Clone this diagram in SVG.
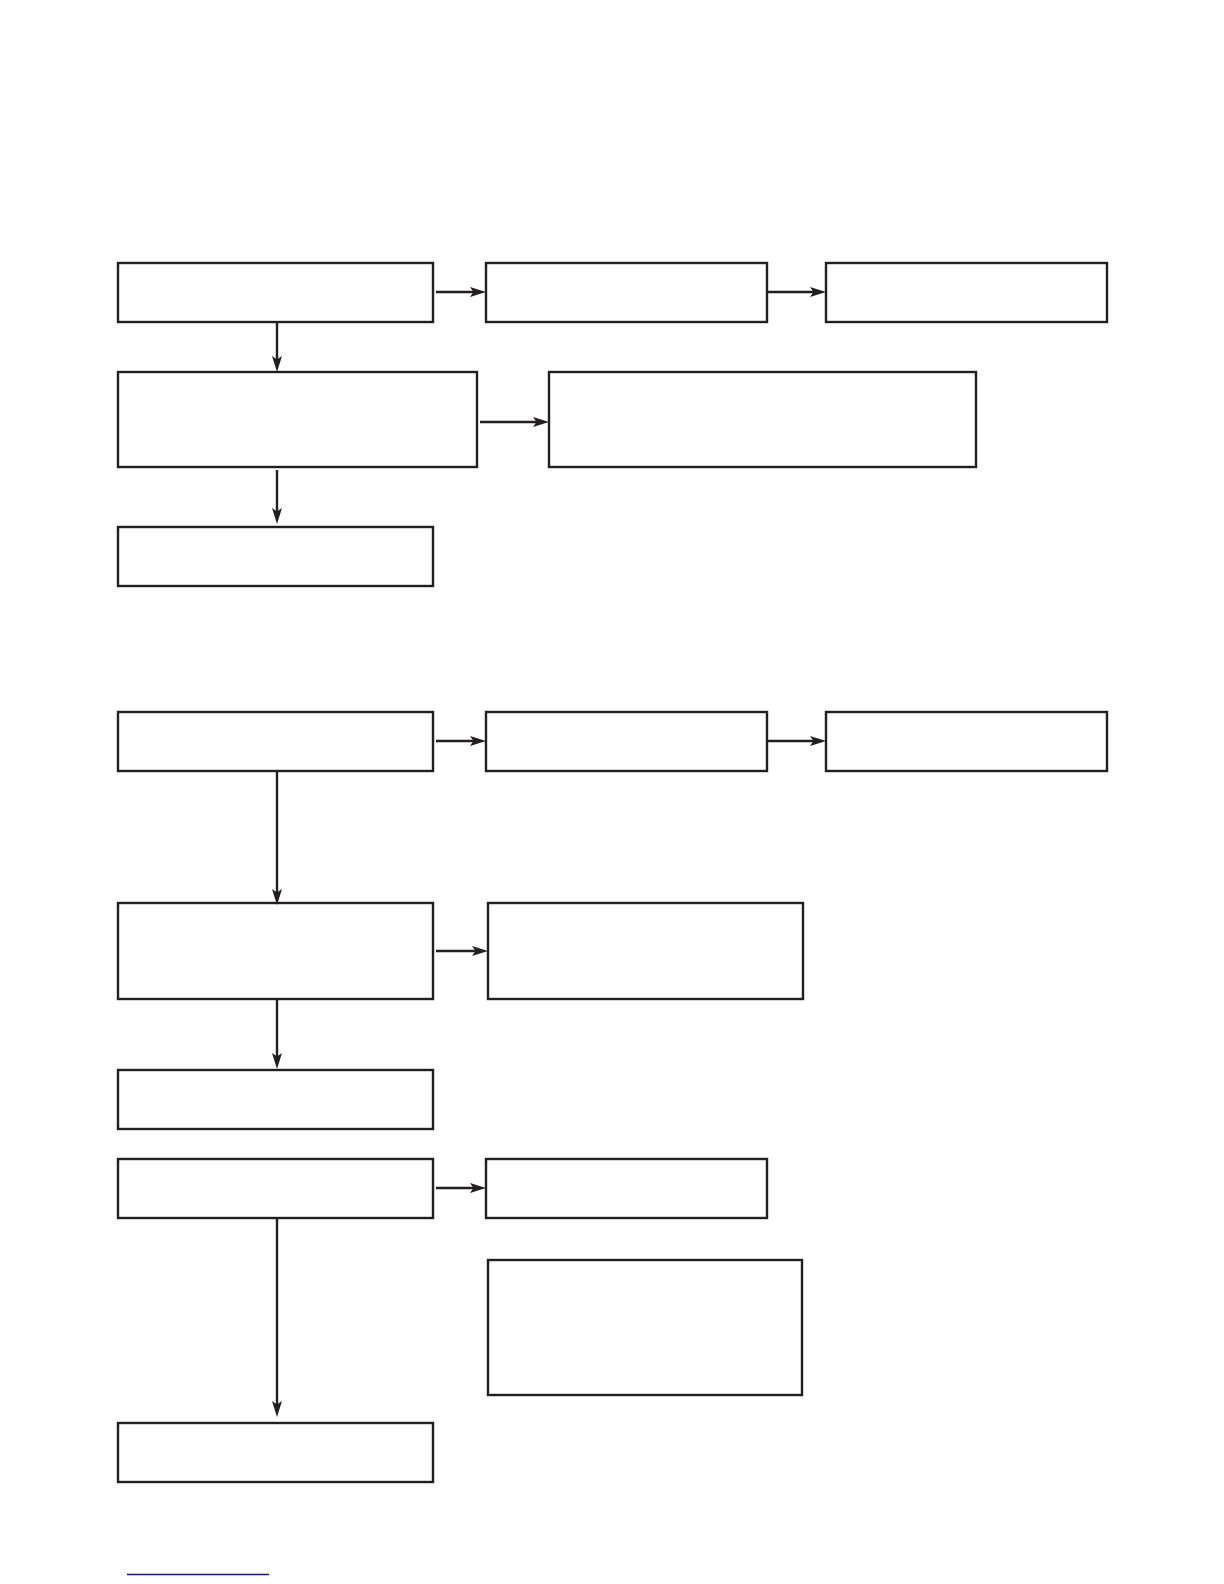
<svg xmlns="http://www.w3.org/2000/svg" width="1224" height="1584" viewBox="0 0 1224 1584">
<style>
.box{fill:#ffffff;stroke:#231f20;stroke-width:2.4}
.conn{stroke:#231f20;stroke-width:2.4;fill:none;marker-end:url(#ah)}
</style>
<defs>
<marker id="ah" markerUnits="userSpaceOnUse" markerWidth="18" markerHeight="12" refX="8" refY="5" orient="auto" overflow="visible">
<path d="M0,0 L16,5 L0,10 L3.5,5 z" fill="#231f20"/>
</marker>
</defs>
<rect width="1224" height="1584" fill="#ffffff"/>
<g id="nodes">
<g id="n1"><rect class="box" x="118" y="263" width="315" height="59"/></g>
<g id="n2"><rect class="box" x="486" y="263" width="281" height="59"/></g>
<g id="n3"><rect class="box" x="826" y="263" width="281" height="59"/></g>
<g id="n4"><rect class="box" x="118" y="372" width="359" height="95"/></g>
<g id="n5"><rect class="box" x="549" y="372" width="427" height="95"/></g>
<g id="n6"><rect class="box" x="118" y="527" width="315" height="59"/></g>
<g id="n7"><rect class="box" x="118" y="712" width="315" height="59"/></g>
<g id="n8"><rect class="box" x="486" y="712" width="281" height="59"/></g>
<g id="n9"><rect class="box" x="826" y="712" width="281" height="59"/></g>
<g id="n10"><rect class="box" x="118" y="903" width="315" height="96"/></g>
<g id="n11"><rect class="box" x="488" y="903" width="315" height="96"/></g>
<g id="n12"><rect class="box" x="118" y="1070" width="315" height="59"/></g>
<g id="n13"><rect class="box" x="118" y="1159" width="315" height="59"/></g>
<g id="n14"><rect class="box" x="486" y="1159" width="281" height="59"/></g>
<g id="n15"><rect class="box" x="488" y="1260" width="314" height="135"/></g>
<g id="n16"><rect class="box" x="118" y="1423" width="315" height="59"/></g>
</g>
<g id="connectors">
<line class="conn" x1="436" y1="292" x2="478" y2="292"/>
<line class="conn" x1="767" y1="292" x2="818" y2="292"/>
<line class="conn" x1="277" y1="322" x2="277" y2="364"/>
<line class="conn" x1="480" y1="422" x2="541" y2="422"/>
<line class="conn" x1="277" y1="470" x2="277" y2="516"/>
<line class="conn" x1="436" y1="741" x2="478" y2="741"/>
<line class="conn" x1="767" y1="741" x2="818" y2="741"/>
<line class="conn" x1="277" y1="771" x2="277" y2="897"/>
<line class="conn" x1="436" y1="951" x2="480" y2="951"/>
<line class="conn" x1="277" y1="999" x2="277" y2="1061"/>
<line class="conn" x1="436" y1="1188" x2="478" y2="1188"/>
<line class="conn" x1="277" y1="1218" x2="277" y2="1409"/>
</g>
<line x1="127" y1="1574.5" x2="269" y2="1574.5" stroke="#15158a" stroke-width="1.6"/>
</svg>
